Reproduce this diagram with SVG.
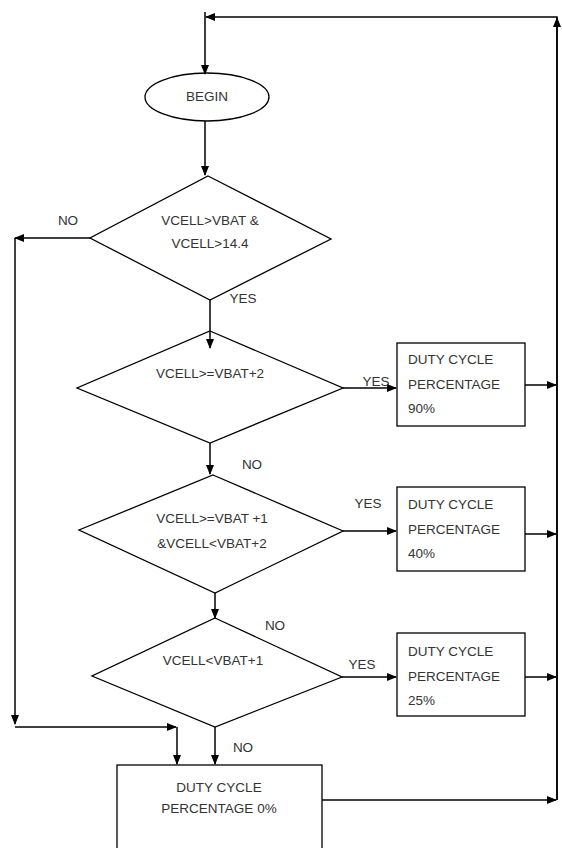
<svg xmlns="http://www.w3.org/2000/svg" width="562" height="848" viewBox="0 0 562 848">
<style>
.s{fill:#fff;stroke:#000;stroke-width:1.3}
.c{fill:none;stroke:#000;stroke-width:1.5}
text{font-family:"Liberation Sans",Arial,sans-serif;font-size:13.5px;fill:#333}
.m{text-anchor:middle}
</style>
<defs>
<marker id="a" markerWidth="10" markerHeight="8" refX="9" refY="4" orient="auto" markerUnits="userSpaceOnUse">
<path d="M0,0 L10,4 L0,8 Z" fill="#000"/>
</marker>
</defs>
<g id="begin">
<ellipse class="s" cx="207" cy="97" rx="62" ry="24"/>
<text x="207" y="101" class="m" font-size="10.5">BEGIN</text>
</g>
<g id="d1">
<polygon class="s" points="208,176 331,239 210,300 90,238"/>
<text x="210" y="225" class="m" font-size="12.5">VCELL&gt;VBAT  &amp;</text>
<text x="210" y="248" class="m" font-size="12.5">VCELL&gt;14.4</text>
</g>
<g id="d2">
<polygon class="s" points="210,331 343,388 210,443 77,388"/>
<text x="210" y="378" class="m">VCELL&gt;=VBAT+2</text>
</g>
<g id="d3">
<polygon class="s" points="213,475 343,531 215,593 79,530"/>
<text x="212" y="523" class="m">VCELL&gt;=VBAT +1</text>
<text x="212" y="548" class="m">&amp;VCELL&lt;VBAT+2</text>
</g>
<g id="d4">
<polygon class="s" points="215,618 342,677 215,727 92,676"/>
<text x="213" y="665" class="m">VCELL&lt;VBAT+1</text>
</g>
<g id="b90">
<rect class="s" x="397" y="343" width="128" height="83"/>
<text x="408" y="364">DUTY CYCLE</text>
<text x="408" y="389">PERCENTAGE</text>
<text x="408" y="413">90%</text>
</g>
<g id="b40">
<rect class="s" x="397" y="487" width="128" height="84"/>
<text x="408" y="509">DUTY CYCLE</text>
<text x="408" y="534">PERCENTAGE</text>
<text x="408" y="558">40%</text>
</g>
<g id="b25">
<rect class="s" x="397" y="633" width="128" height="83"/>
<text x="408" y="656">DUTY CYCLE</text>
<text x="408" y="681">PERCENTAGE</text>
<text x="408" y="705">25%</text>
</g>
<g id="b0">
<rect class="s" x="117" y="765" width="205" height="90"/>
<text x="219" y="792" class="m">DUTY CYCLE</text>
<text x="219" y="813" class="m">PERCENTAGE 0%</text>
</g>
<g id="connectors">
<path class="c" d="M557,800 V17 H206" marker-end="url(#a)"/>
<path class="c" d="M557,800 V18" marker-end="url(#a)"/>
<path class="c" d="M205,12 V74" marker-end="url(#a)"/>
<path class="c" d="M205,121 V175" marker-end="url(#a)"/>
<path class="c" d="M90,238 H15" marker-end="url(#a)"/>
<path class="c" d="M15,238 V724" marker-end="url(#a)"/>
<path class="c" d="M15,727 H176" marker-end="url(#a)"/>
<path class="c" d="M177,727 V764" marker-end="url(#a)"/>
<path class="c" d="M210,300 V348" marker-end="url(#a)"/>
<path class="c" d="M343,388 H396" marker-end="url(#a)"/>
<path class="c" d="M525,385 H556" marker-end="url(#a)"/>
<path class="c" d="M210,443 V474" marker-end="url(#a)"/>
<path class="c" d="M343,531 H396" marker-end="url(#a)"/>
<path class="c" d="M525,534 H556" marker-end="url(#a)"/>
<path class="c" d="M215,593 V618" marker-end="url(#a)"/>
<path class="c" d="M342,677 H396" marker-end="url(#a)"/>
<path class="c" d="M525,677 H556" marker-end="url(#a)"/>
<path class="c" d="M215,727 V764" marker-end="url(#a)"/>
<path class="c" d="M322,800 H556" marker-end="url(#a)"/>
<text x="68" y="225" class="m">NO</text>
<text x="243" y="303" class="m" font-size="12">YES</text>
<text x="376" y="386" class="m" font-size="12">YES</text>
<text x="252" y="469" class="m">NO</text>
<text x="368" y="508" class="m" font-size="12">YES</text>
<text x="275" y="630" class="m">NO</text>
<text x="362" y="669" class="m" font-size="12">YES</text>
<text x="243" y="752" class="m">NO</text>
</g>
</svg>
